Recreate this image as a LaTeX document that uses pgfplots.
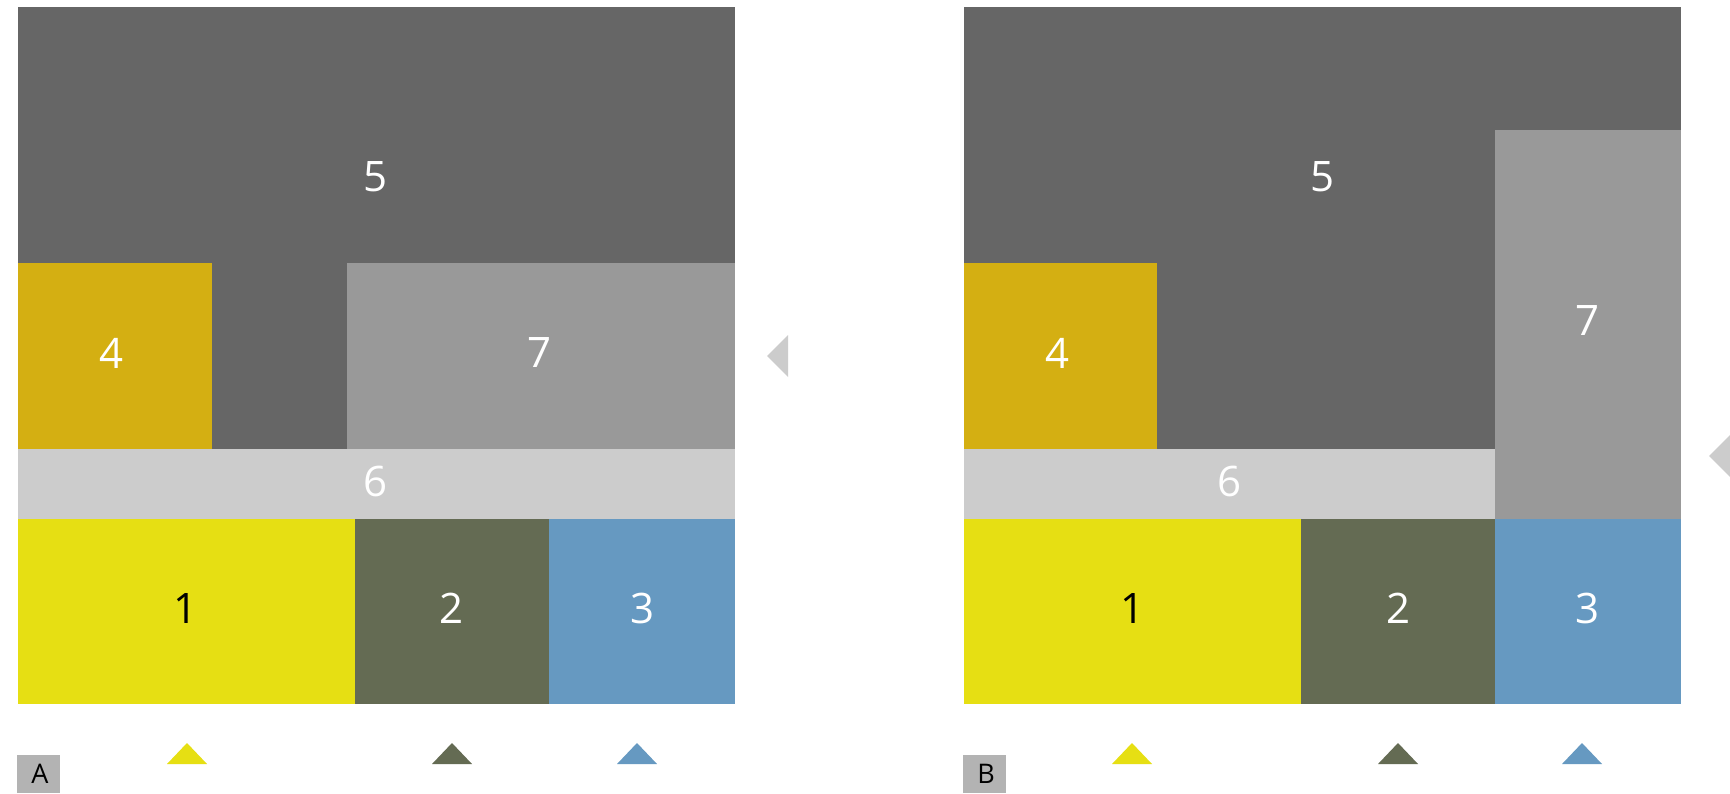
\documentclass[border=0pt]{standalone}
\usepackage{pgfplots}
\pgfplotsset{compat=1.18}
\usepackage{fontspec}
\setmainfont{Open Sans}
\definecolor{cFive}{HTML}{666666}
\definecolor{cFour}{HTML}{D4AF12}
\definecolor{cSeven}{HTML}{999999}
\definecolor{cSix}{HTML}{CCCCCC}
\definecolor{cOne}{HTML}{E6DF13}
\definecolor{cTwo}{HTML}{646B53}
\definecolor{cThree}{HTML}{6699C1}
\definecolor{cBox}{HTML}{B3B3B3}
\newcommand{\bigfs}{\fontsize{21}{25}\selectfont}
\begin{document}
\begin{tikzpicture}
\begin{axis}[
  width=865pt, height=396.5pt, scale only axis,
  xmin=0, xmax=1730, ymin=0, ymax=793, y dir=reverse,
  hide axis, clip=true,
  every axis plot/.append style={draw=none, mark=none},
]
% background
\addplot[fill=white] coordinates {(0,0)(1730,0)(1730,793)(0,793)};
% ---------- Panel A ----------
\addplot[fill=cFive]  coordinates {(18,7)(735,7)(735,449)(18,449)};
\addplot[fill=cFour]  coordinates {(18,263)(212,263)(212,449)(18,449)};
\addplot[fill=cSeven] coordinates {(347,263)(735,263)(735,449)(347,449)};
\addplot[fill=cSix]   coordinates {(18,449)(735,449)(735,519)(18,519)};
\addplot[fill=cOne]   coordinates {(18,519)(355,519)(355,704)(18,704)};
\addplot[fill=cTwo]   coordinates {(355,519)(549,519)(549,704)(355,704)};
\addplot[fill=cThree] coordinates {(549,519)(735,519)(735,704)(549,704)};
% triangles A
\addplot[fill=cOne]   coordinates {(187,743)(207,764)(167,764)};
\addplot[fill=cTwo]   coordinates {(452,743)(472,764)(432,764)};
\addplot[fill=cThree] coordinates {(637,743)(657,764)(617,764)};
\addplot[fill=cSix]   coordinates {(767,356)(788,335)(788,377)};
\addplot[fill=cBox]   coordinates {(17,755)(60,755)(60,793)(17,793)};
% ---------- Panel B ----------
\addplot[fill=cFive]  coordinates {(964,7)(1681,7)(1681,449)(964,449)};
\addplot[fill=cFour]  coordinates {(964,263)(1157,263)(1157,449)(964,449)};
\addplot[fill=cSeven] coordinates {(1495,130)(1681,130)(1681,519)(1495,519)};
\addplot[fill=cSix]   coordinates {(964,449)(1495,449)(1495,519)(964,519)};
\addplot[fill=cOne]   coordinates {(964,519)(1301,519)(1301,704)(964,704)};
\addplot[fill=cTwo]   coordinates {(1301,519)(1495,519)(1495,704)(1301,704)};
\addplot[fill=cThree] coordinates {(1495,519)(1681,519)(1681,704)(1495,704)};
% triangles B
\addplot[fill=cOne]   coordinates {(1132,743)(1152,764)(1112,764)};
\addplot[fill=cTwo]   coordinates {(1398,743)(1418,764)(1378,764)};
\addplot[fill=cThree] coordinates {(1582,743)(1602,764)(1562,764)};
\addplot[fill=cSix]   coordinates {(1709,456)(1730,435)(1730,477)};
\addplot[fill=cBox]   coordinates {(963,755)(1006,755)(1006,793)(963,793)};
% labels A
\node[white] at (376,177) {\bigfs 5};
\node[white] at (112,353) {\bigfs 4};
\node[white] at (540,353) {\bigfs 7};
\node[white] at (376,481) {\bigfs 6};
\node[black] at (186,608) {\bigfs 1};
\node[white] at (452,608) {\bigfs 2};
\node[white] at (642,608) {\bigfs 3};
\node[black] at (40,774) {\fontsize{13.5}{16}\selectfont A};
% labels B
\node[white] at (1322,177) {\bigfs 5};
\node[white] at (1057,353) {\bigfs 4};
\node[white] at (1587,321) {\bigfs 7};
\node[white] at (1229,481) {\bigfs 6};
\node[black] at (1132,608) {\bigfs 1};
\node[white] at (1398,608) {\bigfs 2};
\node[white] at (1587,608) {\bigfs 3};
\node[black] at (986,774) {\fontsize{13.5}{16}\selectfont B};
\end{axis}
\end{tikzpicture}
\end{document}
